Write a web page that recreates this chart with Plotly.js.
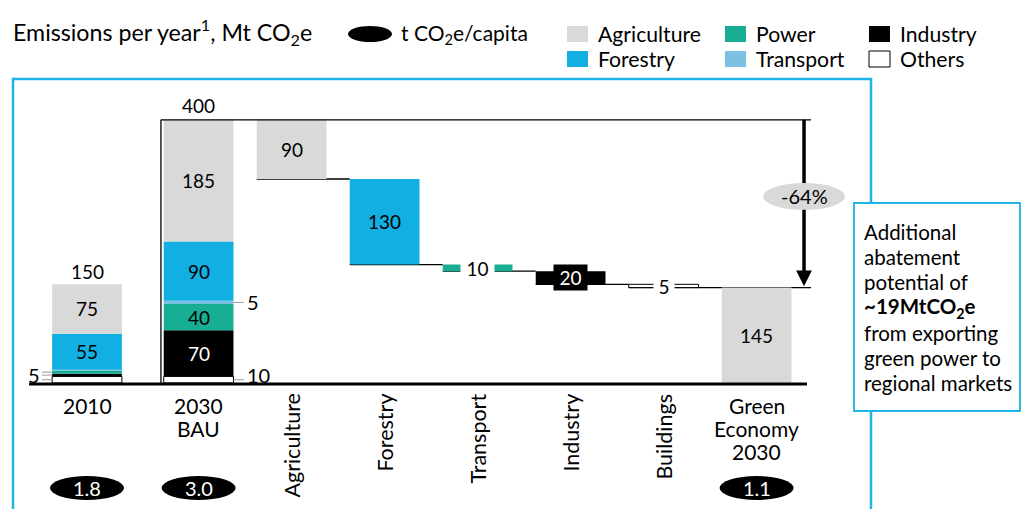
<!DOCTYPE html>
<html><head><meta charset="utf-8">
<script src="https://cdn.plot.ly/plotly-3.0.1.min.js"></script>
<style>html,body{margin:0;padding:0;background:#fff}#chart{width:1027px;height:509px}</style>
</head><body><div id="chart"></div>
<script>
// ---------- DATA ----------
const categories = ['2010', '2030 BAU', 'Agriculture', 'Forestry', 'Transport', 'Industry', 'Buildings', 'Green Economy 2030'];
const categoryLabels = ['2010', '2030<br>BAU', 'Agriculture', 'Forestry', 'Transport', 'Industry', 'Buildings', 'Green<br>Economy<br>2030'];
const rotatedCategory = [false, false, true, true, true, true, true, false];
// stacked sectors (bottom to top)
const sectors = ['Others', 'Industry', 'Power', 'Transport', 'Forestry', 'Agriculture'];
const emissions2010 = [10, 4, 5, 1, 55, 75];
const emissions2030BAU = [10, 70, 40, 5, 90, 185];
const totalLabels = ['150', '400'];
// abatement levers
const levers = ['Agriculture', 'Forestry', 'Transport', 'Industry', 'Buildings'];
const leverSector = ['Agriculture', 'Forestry', 'Power', 'Industry', 'Others'];
const abatement = [90, 130, 10, 20, 5];
const greenEconomy2030 = 145;
const reductionLabel = '-64%';
// t CO2e per capita
const perCapitaCats = ['2010', '2030 BAU', 'Green Economy 2030'];
const perCapita = ['1.8', '3.0', '1.1'];
const legendOrder = ['Agriculture', 'Power', 'Industry', 'Forestry', 'Transport', 'Others'];
const noteText = 'Additional<br>abatement<br>potential of<br><b>~19MtCO<sub>2</sub>e</b><br>from exporting<br>green power to<br>regional markets';

// ---------- STYLE ----------
const colors = {Agriculture:'#D9D9D9', Forestry:'#12AFE3', Power:'#17AE94', Transport:'#7DC1E2', Industry:'#000000', Others:'#FFFFFF'};
const FONT = 'Lato, "Open Sans", sans-serif';
const CYAN = '#1DB4E8';
const PX = {l:29, t:104, w:831, h:279};
const UNIT = 93; // px per category step
const xp = px => (px - PX.l) / PX.w;
const yp = py => (PX.t + PX.h - py) / PX.h;
const BW = 0.75;
const X = c => { const i = categories.indexOf(c); return i + (i > 0 ? 0.2 : 0); };
const xmin = -(87 - PX.l) / UNIT;

const traces = [];
const annotations = [];
const shapes = [];
const txt = (o) => Object.assign({showarrow:false, font:{family:FONT, size:19, color:'#000'}}, o);

// stacked bars
const cum = arr => { let s = 0; return arr.map(v => { const b = s; s += v; return b; }); };
const base2010 = cum(emissions2010), base2030 = cum(emissions2030BAU);
sectors.forEach((s, i) => {
  traces.push({type:'bar', x:[X('2010'), X('2030 BAU')], y:[emissions2010[i], emissions2030BAU[i]],
    base:[base2010[i], base2030[i]], width:BW,
    marker:{color:colors[s], line:{color: s === 'Others' ? '#000' : colors[s], width: s === 'Others' ? 1 : 0}},
    hoverinfo:'skip', showlegend:false});
  [[X('2010'), emissions2010[i], base2010[i]], [X('2030 BAU'), emissions2030BAU[i], base2030[i]]].forEach(([x, v, b]) => {
    if (v >= 20) annotations.push(txt({x, y:b + v / 2, text:String(v),
      font:{family:FONT, size:19, color: s === 'Industry' ? '#fff' : '#000'}}));
  });
});
const total2030 = emissions2030BAU.reduce((a, b) => a + b, 0);
const total2010 = emissions2010.reduce((a, b) => a + b, 0);
annotations.push(txt({x:X('2010'), y:total2010, text:totalLabels[0], yanchor:'bottom', yshift:-1}));
annotations.push(txt({x:X('2030 BAU'), y:total2030, text:totalLabels[1], yanchor:'bottom', yshift:1}));

// small-segment leader labels
const leader = {color:'#999', width:1};
[['Transport', '5', 0], ['Others', '10', 5]].forEach(([s, t, sh]) => {
  const i = sectors.indexOf(s);
  const y = base2030[i] + emissions2030BAU[i] / 2;
  const x0 = X('2030 BAU') + BW / 2;
  shapes.push({type:'line', xref:'x', yref:'y', x0, x1:x0 + 0.11, y0:y, y1:y, line:leader});
  annotations.push(txt({x:x0 + 0.12, y, yshift:sh, text:t, xanchor:'left', font:{family:FONT, size:20, color:'#000'}}));
});
['Others', 'Industry', 'Power'].forEach(s => {
  const i = sectors.indexOf(s);
  const y = base2010[i] + emissions2010[i] / 2;
  const x1 = X('2010') - BW / 2;
  shapes.push({type:'line', xref:'x', yref:'y', x0:x1 - 0.11, x1, y0:y, y1:y, line:leader});
});
annotations.push(txt({x:X('2010') - BW / 2 - 0.11, y:base2010[sectors.indexOf('Industry')] + 2, text:'5', xanchor:'right', font:{family:FONT, size:20, color:'#000'}}));

// waterfall
let level = total2030;
const wfBase = [];
abatement.forEach(v => { level -= v; wfBase.push(level); });
traces.push({type:'bar', x:levers.map(X), y:abatement, base:wfBase, width:BW,
  marker:{color:leverSector.map(s => colors[s]), line:{color:leverSector.map(s => s === 'Others' ? '#000' : colors[s]), width:leverSector.map(s => s === 'Others' ? 1 : 0)}},
  hoverinfo:'skip', showlegend:false});
traces.push({type:'bar', x:[X('Green Economy 2030')], y:[greenEconomy2030], base:[0], width:BW,
  marker:{color:colors.Agriculture}, hoverinfo:'skip', showlegend:false});
annotations.push(txt({x:X('Green Economy 2030'), y:greenEconomy2030 / 2, text:String(greenEconomy2030)}));

levers.forEach((l, i) => {
  const x = X(l), v = abatement[i], y = wfBase[i] + v / 2;
  const s = leverSector[i];
  const a = txt({x, y, text:String(v), font:{family:FONT, size:19, color: s === 'Industry' ? '#fff' : '#000'}});
  if (v < 30) {
    a.bgcolor = s === 'Industry' ? '#000' : '#fff';
    a.width = v < 10 ? 18 : 31;
    a.height = s === 'Industry' ? 23 : 20;
  }
  annotations.push(a);
});

// connectors
const arrowX = X('Green Economy 2030') + 0.51;
const lineEnd = X('Green Economy 2030') + 0.585;
const frameX = X('2030 BAU') - BW / 2 - 0.03;
const conn = {color:'#000', width:1.3};
shapes.push({type:'line', xref:'x', yref:'y', x0:frameX, x1:frameX, y0:0, y1:total2030, line:conn});
shapes.push({type:'line', xref:'x', yref:'y', x0:frameX, x1:lineEnd, y0:total2030, y1:total2030, line:conn});
levers.forEach((l, i) => {
  const x0 = X(l) - BW / 2;
  const x1 = i < levers.length - 1 ? X(levers[i + 1]) - BW / 2 : lineEnd;
  shapes.push({type:'line', xref:'x', yref:'y', x0, x1, y0:wfBase[i], y1:wfBase[i], line:conn, layer:'below'});
});
// baseline
shapes.push({type:'line', xref:'paper', yref:'paper', x0:0, x1:xp(807), y0:yp(384), y1:yp(384), line:{color:'#000', width:3}});

// reduction arrow (shaft behind ellipse, head as annotation)
const pctY = (total2030 + greenEconomy2030) / 2 + 11;
shapes.push({type:'line', xref:'x', yref:'y', x0:arrowX, x1:arrowX, y0:total2030, y1:pctY, line:{color:'#000', width:3.5}});
shapes.push({type:'circle', xref:'x', yref:'y', xsizemode:'pixel', ysizemode:'pixel', xanchor:arrowX, yanchor:pctY,
  x0:-41, x1:41, y0:-13.5, y1:13.5, fillcolor:'#D9D9D9', line:{width:0}});
annotations.push({x:arrowX, y:greenEconomy2030 + 2, ax:arrowX, ay:pctY - 18, axref:'x', ayref:'y', xref:'x', yref:'y',
  text:'', showarrow:true, arrowhead:2, arrowsize:0.9, arrowwidth:3.5, arrowcolor:'#000', standoff:0});
annotations.push(txt({x:arrowX, y:pctY, text:reductionLabel, font:{family:FONT, size:20, color:'#000'}}));

// category labels
categories.forEach((c, i) => {
  if (rotatedCategory[i]) {
    annotations.push(txt({x:X(c), xref:'x', yref:'paper', y:yp(392), yanchor:'top', text:categoryLabels[i], textangle:-90,
      font:{family:FONT, size:21.5, color:'#000'}}));
  } else {
    categoryLabels[i].split('<br>').forEach((line, k) => {
      annotations.push(txt({x:X(c), xref:'x', yref:'paper', y:yp(405 + 23 * k), yanchor:'middle', text:line,
        font:{family:FONT, size:21, color:'#000'}}));
    });
  }
});

// per capita ellipses
perCapitaCats.forEach((c, i) => {
  shapes.push({type:'circle', xref:'x', yref:'paper', xsizemode:'pixel', ysizemode:'pixel', xanchor:X(c), yanchor:yp(488),
    x0:-37, x1:37, y0:-12, y1:12, fillcolor:'#000', line:{width:0}});
  annotations.push(txt({x:X(c), xref:'x', yref:'paper', y:yp(488), yanchor:'middle', text:perCapita[i],
    font:{family:FONT, size:20, color:'#fff'}}));
});

// outer frame and side box
shapes.push({type:'rect', xref:'paper', yref:'paper', x0:xp(13), x1:xp(871), y0:yp(79), y1:yp(540), line:{color:CYAN, width:2.5}, fillcolor:'rgba(0,0,0,0)'});
shapes.push({type:'rect', xref:'paper', yref:'paper', x0:xp(854), x1:xp(1020), y0:yp(203), y1:yp(411), line:{color:CYAN, width:1.8}, fillcolor:'#fff'});
noteText.split('<br>').forEach((line, k) => {
  annotations.push(txt({xref:'paper', yref:'paper', x:xp(862), y:yp(232 + 25.2 * k), xanchor:'left', yanchor:'middle', text:line,
    height:24, font:{family:FONT, size:20.5, color:'#000'}}));
});

// title
annotations.push(txt({xref:'paper', yref:'paper', x:xp(11), y:yp(32), xanchor:'left', yanchor:'middle',
  text:'Emissions per year<sup>1</sup>, Mt CO<sub>2</sub>e', font:{family:FONT, size:23.2, color:'#000'}}));
// per capita legend
shapes.push({type:'circle', xref:'paper', yref:'paper', x0:xp(348), x1:xp(392), y0:yp(26), y1:yp(42), fillcolor:'#000', line:{width:0}});
annotations.push(txt({xref:'paper', yref:'paper', x:xp(399), y:yp(34), xanchor:'left', yanchor:'middle',
  text:'t CO<sub>2</sub>e/capita', font:{family:FONT, size:21, color:'#000'}}));
// sector legend
const colX = [567, 725, 869], rowY = [34, 59];
legendOrder.forEach((s, k) => {
  const cx = colX[k % 3], cy = rowY[Math.floor(k / 3)];
  shapes.push({type:'rect', xref:'paper', yref:'paper', x0:xp(cx), x1:xp(cx + 21), y0:yp(cy - 8), y1:yp(cy + 8),
    fillcolor:colors[s], line:{color: s === 'Others' ? '#000' : colors[s], width: s === 'Others' ? 1 : 0}});
  annotations.push(txt({xref:'paper', yref:'paper', x:xp(cx + 29), y:yp(cy), xanchor:'left', yanchor:'middle',
    text:s, font:{family:FONT, size:21.2, color:'#000'}}));
});

const layout = {
  width:1027, height:509, margin:{l:PX.l, r:1027 - PX.l - PX.w, t:PX.t, b:509 - PX.t - PX.h, pad:0},
  paper_bgcolor:'#fff', plot_bgcolor:'rgba(0,0,0,0)', barmode:'overlay', showlegend:false,
  xaxis:{range:[xmin, xmin + PX.w / UNIT], visible:false, fixedrange:true},
  yaxis:{range:[0, 424], visible:false, fixedrange:true},
  annotations, shapes, font:{family:FONT}
};
Plotly.newPlot('chart', traces, layout, {displayModeBar:false, staticPlot:true});
</script></body></html>
